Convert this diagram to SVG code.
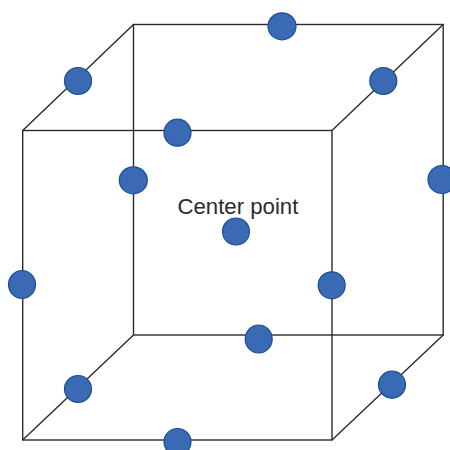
<svg xmlns="http://www.w3.org/2000/svg" width="450" height="450" viewBox="0 0 450 450">
<style>
.e{fill:none;stroke:#2b2b2b;stroke-width:1.4;stroke-linejoin:miter}
.d{fill:#3a6ab4;stroke:#1b4f94;stroke-width:1.2}
text{font-family:"Liberation Sans",Arial,sans-serif;font-size:22.2px;fill:#2b2b2b}
</style>
<rect width="450" height="450" fill="#fff"/>
<g id="connectors">
<rect class="e" x="22.7" y="130.5" width="309.3" height="309.5"/>
<rect class="e" x="133.5" y="24.5" width="309.7" height="310.5"/>
<path class="e" d="M22.7 130.5L133.5 24.5M332 130.5L443.2 24.5M22.7 440L133.5 335M332 440L443.2 335"/>
</g>
<g id="node-1"><circle class="d" cx="78" cy="81" r="13.5"/></g>
<g id="node-2"><circle class="d" cx="177.5" cy="132.7" r="13.5"/></g>
<g id="node-3"><ellipse class="d" cx="133.3" cy="180.3" rx="14" ry="13.5"/></g>
<g id="node-4"><ellipse class="d" cx="282" cy="26.3" rx="14" ry="13.5"/></g>
<g id="node-5"><circle class="d" cx="383.3" cy="81" r="13.5"/></g>
<g id="node-6"><ellipse class="d" cx="442" cy="179.5" rx="14" ry="14"/></g>
<g id="node-7"><ellipse class="d" cx="22" cy="284.5" rx="13.5" ry="14"/></g>
<g id="node-8"><circle class="d" cx="78" cy="389" r="13.5"/></g>
<g id="node-9"><circle class="d" cx="177.5" cy="442" r="13.5"/></g>
<g id="node-10"><circle class="d" cx="331.7" cy="285.3" r="13.5"/></g>
<g id="node-11"><ellipse class="d" cx="258.7" cy="339" rx="13.5" ry="14"/></g>
<g id="node-12"><circle class="d" cx="392" cy="384.7" r="13.5"/></g>
<g id="node-13"><circle class="d" cx="236" cy="231.5" r="13.5"/></g>
<text x="177.5" y="214">Center point</text>
</svg>
